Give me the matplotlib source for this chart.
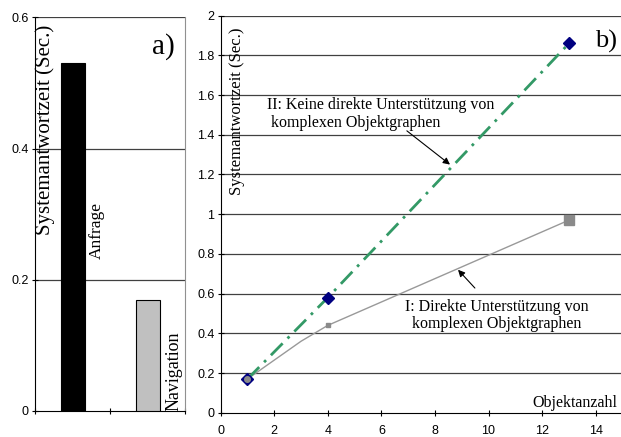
import matplotlib
matplotlib.use("Agg")
import matplotlib.pyplot as plt
import numpy as np

# panel a) bar values
bar_labels = ["Anfrage", "Navigation"]
bar_values = [0.53, 0.17]
bar_colors = ["#000000", "#c0c0c0"]

# panel b) series
x_direct = [1, 3, 4, 13]
y_direct = [0.17, 0.36, 0.44, 0.97]
x_indirect = [1, 4, 13]
y_indirect = [0.17, 0.58, 1.86]

a_yticks = [0, 0.2, 0.4, 0.6]
b_yticks = [0, 0.2, 0.4, 0.6, 0.8, 1, 1.2, 1.4, 1.6, 1.8, 2]
b_xticks = [0, 2, 4, 6, 8, 10, 12, 14]

serif = "Liberation Serif"
sans = "Liberation Sans"
grid_col = "#404040"

fig = plt.figure(figsize=(6.21, 4.37), dpi=100)

# ---- panel a)
ax1 = fig.add_axes([0.0564, 0.0595, 0.2415, 0.9005])
pos = np.arange(len(bar_values)) + 0.5
ax1.bar(pos, bar_values, width=0.32, color=bar_colors, edgecolor="black",
        linewidth=0.8, zorder=3)
ax1.set_xlim(0, 2)
ax1.set_ylim(0, 0.6)
ax1.set_xticks([0, 1, 2])
ax1.set_xticklabels([])
ax1.set_yticks(a_yticks)
ax1.set_yticklabels(["0", "0.2", "0.4", "0.6"], fontfamily=sans, fontsize=9)
ax1.tick_params(direction="inout", length=5, width=0.8, pad=2)
for y in a_yticks[1:]:
    ax1.axhline(y, color=grid_col, lw=0.9, zorder=1)
ax1.spines["top"].set_visible(False)
ax1.spines["right"].set_color("#909090")
ax1.text(0.14, 0.589, "Systemantwortzeit (Sec.)", rotation=90, fontfamily=serif,
         fontsize=15, ha="center", va="top")
ax1.text(0.83, 0.275, bar_labels[0], rotation=90, fontfamily=serif, fontsize=12.5,
         ha="center", va="center")
ax1.text(1.85, 0.0, bar_labels[1], rotation=90, fontfamily=serif, fontsize=13,
         ha="center", va="bottom")
ax1.text(1.87, 0.555, "a)", fontfamily=serif, fontsize=21, ha="right", va="center")

# ---- panel b)
ax2 = fig.add_axes([0.3554, 0.0556, 0.647, 0.9085])
for y in b_yticks[1:]:
    ax2.axhline(y, color=grid_col, lw=0.9, zorder=1)
ax2.plot(x_direct, y_direct, color="#999999", lw=1.0, zorder=3)
ax2.plot([1], [0.17], marker="D", color="#000080", ms=6, ls="none", zorder=4)
ax2.plot(x_indirect, y_indirect, color="#339966", lw=2.0, dashes=(6, 2.5, 1, 2.5),
         zorder=3)
ax2.plot(x_indirect[1:], y_indirect[1:], marker="D", color="#000080", ms=6,
         ls="none", zorder=5)
ax2.plot([x_direct[0]], [y_direct[0]], marker="o", color="#8a8a8a", ms=4,
         ls="none", zorder=5)
ax2.plot([x_direct[2]], [y_direct[2]], marker="s", color="#8a8a8a", ms=3.5,
         ls="none", zorder=5)
ax2.plot([x_direct[3]], [y_direct[3]], marker="s", color="#8a8a8a", ms=7,
         ls="none", zorder=5)
ax2.set_xlim(0, 15)
ax2.set_ylim(0, 2)
ax2.set_xticks(b_xticks)
ax2.set_xticklabels([str(v) for v in b_xticks], fontfamily=sans, fontsize=9)
ax2.set_yticks(b_yticks)
ax2.set_yticklabels([f"{v:g}" for v in b_yticks], fontfamily=sans, fontsize=9)
ax2.tick_params(direction="inout", length=5, width=0.8, pad=2)
ax2.tick_params(axis="x", pad=6)
ax2.spines["top"].set_visible(False)
ax2.spines["right"].set_visible(False)

ax2.text(0.62, 1.94, "Systemantwortzeit (Sec.)", rotation=90, fontfamily=serif,
         fontsize=12, ha="center", va="top")
ax2.text(1.72, 1.505, "II: Keine direkte Unterstützung von\n komplexen Objektgraphen",
         fontfamily=serif, fontsize=11.5, ha="left", va="center", linespacing=1.15)
ax2.annotate("", xy=(8.56, 1.25), xytext=(6.95, 1.42),
             arrowprops=dict(arrowstyle="-|>", color="black", lw=0.8,
                             mutation_scale=10, shrinkA=0, shrinkB=0))
ax2.text(10.3, 0.49, "I: Direkte Unterstützung von\nkomplexen Objektgraphen",
         fontfamily=serif, fontsize=11.5, ha="center", va="center",
         linespacing=1.15)
ax2.annotate("", xy=(8.86, 0.72), xytext=(9.49, 0.628),
             arrowprops=dict(arrowstyle="-|>", color="black", lw=0.8,
                             mutation_scale=10, shrinkA=0, shrinkB=0))
ax2.text(14.82, 0.05, "Objektanzahl", fontfamily=serif, fontsize=11.5,
         ha="right", va="center")
ax2.text(14.8, 1.87, "b)", fontfamily=serif, fontsize=19, ha="right",
         va="center")

fig.savefig("out.png", dpi=100)
